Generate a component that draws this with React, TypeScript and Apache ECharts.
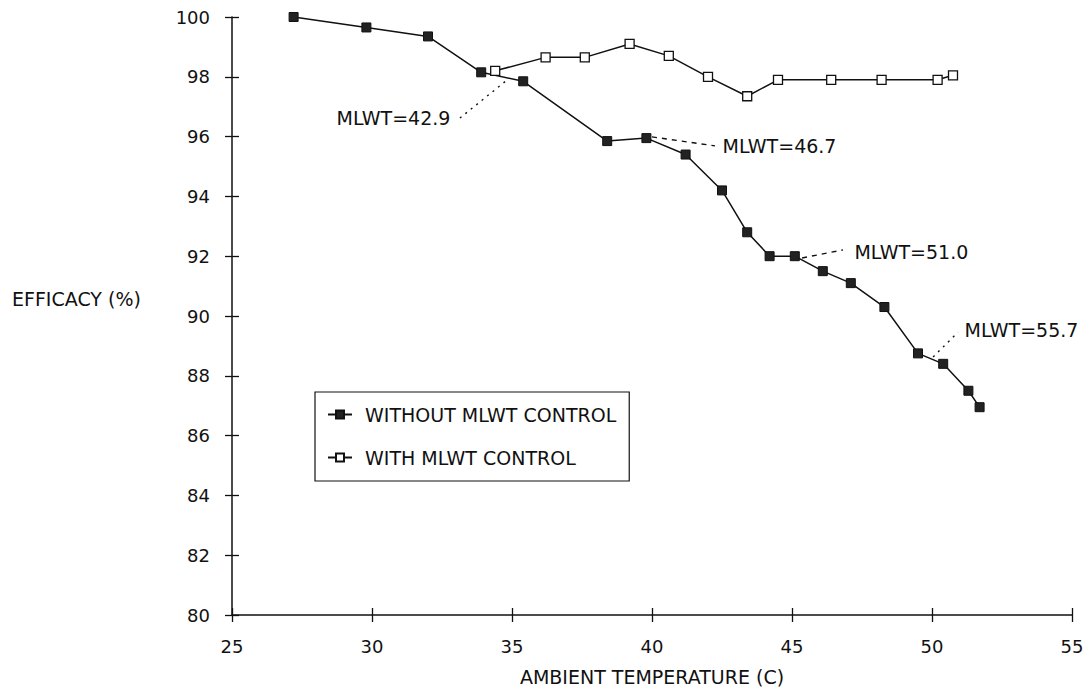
import React, { useEffect, useRef } from "react";
import * as echarts from "echarts";

const withoutTemp = [27.2, 29.8, 32.0, 33.9, 35.4, 38.4, 39.8, 41.2, 42.5, 43.4, 44.2, 45.1, 46.1, 47.1, 48.3, 49.5, 50.4, 51.3, 51.7];
const withoutEff = [100.0, 99.65, 99.35, 98.15, 97.85, 95.85, 95.95, 95.4, 94.2, 92.8, 92.0, 92.0, 91.5, 91.1, 90.3, 88.75, 88.4, 87.5, 86.95];
const withTemp = [34.4, 36.2, 37.6, 39.2, 40.6, 42.0, 43.4, 44.5, 46.4, 48.2, 50.2, 50.75];
const withEff = [98.2, 98.65, 98.65, 99.1, 98.7, 98.0, 97.35, 97.9, 97.9, 97.9, 97.9, 98.05];

const xTickValues = [25, 30, 35, 40, 45, 50, 55];
const yTickValues = [80, 82, 84, 86, 88, 90, 92, 94, 96, 98, 100];

const seriesNames = ["WITHOUT MLWT CONTROL", "WITH MLWT CONTROL"];
const xTitle = "AMBIENT TEMPERATURE (C)";
const yTitle = "EFFICACY (%)";

const annoLabels = ["MLWT=42.9", "MLWT=46.7", "MLWT=51.0", "MLWT=55.7"];
const annoFrom = [[33.14, 96.62], [40.0, 95.99], [45.36, 91.94], [50.04, 88.63]];
const annoTo = [[34.82, 97.89], [42.25, 95.69], [46.82, 92.21], [50.93, 89.46]];
const annoTextAt = [[32.96, 96.62], [42.36, 95.69], [47.07, 92.14], [51.0, 89.53]];
const annoSide = ["left", "right", "right", "right"];
const annoDotted = [true, false, false, true];

const FONT = "DejaVu Sans";
const INK = "#111";

export default function App() {
  const ref = useRef<HTMLDivElement>(null);
  useEffect(() => {
    if (!ref.current) return;
    const chart = echarts.init(ref.current, null, { renderer: "svg" });
    const xMin = xTickValues[0];
    const xMax = xTickValues[xTickValues.length - 1];
    const yMin = yTickValues[0];
    const yMax = yTickValues[yTickValues.length - 1];
    const gridBox = { left: 232, right: 20, top: 17, bottom: 78 };
    const plotW = 1092 - gridBox.left - gridBox.right;
    const plotH = 693 - gridBox.top - gridBox.bottom;
    const tickPx = 7;
    const xTickLen = (tickPx * (yMax - yMin)) / plotH;
    const yTickLen = (tickPx * (xMax - xMin)) / plotW;
    const tickStyle = { color: INK, width: 1.3, type: "solid" };
    const innerTicks = [
      ...xTickValues.map((v) => [
        { coord: [v, yMin], lineStyle: tickStyle },
        { coord: [v, yMin + xTickLen] },
      ]),
      ...yTickValues.map((v) => [
        { coord: [xMin, v], lineStyle: tickStyle },
        { coord: [xMin + yTickLen, v] },
      ]),
    ];
    const annoLines = annoFrom.map((f, i) => [
      {
        coord: f,
        lineStyle: { color: INK, width: 1.4, type: annoDotted[i] ? [2, 5] : [5, 5] },
      },
      { coord: annoTo[i] },
    ]);
    const withoutData = withoutTemp.map((t, i) => [t, withoutEff[i]]);
    const withData = withTemp.map((t, i) => [t, withEff[i]]);
    const option: any = {
      animation: false,
      backgroundColor: "#fff",
      textStyle: { fontFamily: FONT, color: INK },
      grid: gridBox,
      xAxis: {
        type: "value",
        min: xMin,
        max: xMax,
        interval: 5,
        axisLine: { show: true, onZero: false, lineStyle: { color: INK, width: 1.5 } },
        axisTick: { show: true, length: 7, lineStyle: { color: INK, width: 1.3 } },
        axisLabel: { color: INK, fontSize: 18, fontFamily: FONT, margin: 22 },
        splitLine: { show: false },
        name: xTitle,
        nameLocation: "middle",
        nameGap: 52,
        nameTextStyle: { color: INK, fontSize: 19, fontFamily: FONT },
      },
      yAxis: {
        type: "value",
        min: yMin,
        max: yMax,
        interval: 2,
        axisLine: { show: true, onZero: false, lineStyle: { color: INK, width: 1.5 } },
        axisTick: { show: true, length: 7, lineStyle: { color: INK, width: 1.3 } },
        axisLabel: { color: INK, fontSize: 18, fontFamily: FONT, margin: 22 },
        splitLine: { show: false },
      },
      legend: {
        orient: "vertical",
        left: 315,
        top: 392,
        padding: [13, 13, 14, 12],
        itemGap: 24,
        itemWidth: 24,
        itemHeight: 10,
        borderColor: INK,
        borderWidth: 1.2,
        textStyle: { color: INK, fontSize: 19, fontFamily: FONT, padding: [0, 0, 0, 8] },
        data: seriesNames,
      },
      graphic: [
        {
          type: "text",
          left: 12,
          top: 289,
          style: { text: yTitle, fill: INK, fontSize: 19, fontFamily: FONT },
        },
      ],
      series: [
        {
          name: seriesNames[0],
          type: "line",
          data: withoutData,
          symbol: "rect",
          symbolSize: 9,
          lineStyle: { color: INK, width: 1.5 },
          itemStyle: { color: "#222", borderColor: INK, borderWidth: 1 },
          z: 3,
          markLine: {
            silent: true,
            symbol: ["none", "none"],
            label: { show: false },
            data: [...annoLines, ...innerTicks],
          },
          markPoint: {
            silent: true,
            symbol: "circle",
            symbolSize: 1,
            itemStyle: { color: "rgba(0,0,0,0)" },
            data: annoTextAt.map((c, i) => ({
              coord: c,
              label: {
                show: true,
                position: annoSide[i],
                distance: 4,
                formatter: annoLabels[i],
                color: INK,
                fontSize: 19,
                fontFamily: FONT,
              },
            })),
          },
        },
        {
          name: seriesNames[1],
          type: "line",
          data: withData,
          symbol: "rect",
          symbolSize: 9,
          lineStyle: { color: INK, width: 1.5 },
          itemStyle: { color: "#fff", borderColor: INK, borderWidth: 1.3 },
          z: 4,
        },
      ],
    };
    chart.setOption(option);
    return () => chart.dispose();
  }, []);
  return (
    <div
      ref={ref}
      style={{ position: "fixed", left: 0, top: 0, width: 1092, height: 693, background: "#fff" }}
    />
  );
}
